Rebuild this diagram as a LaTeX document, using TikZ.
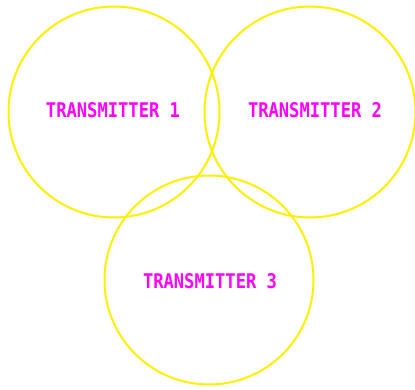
\documentclass[tikz,border=0pt]{standalone}
\usepackage{fontspec}
\setmonofont{DejaVu Sans Mono}
\usepackage{graphicx}
\definecolor{cadyellow}{RGB}{255,240,0}
\definecolor{cadmagenta}{RGB}{255,0,255}
\tikzset{
  zone/.style={circle, draw=cadyellow, line width=2pt, minimum size=#1, inner sep=0pt},
  label/.style={text=cadmagenta, inner sep=0pt, font=\ttfamily\bfseries}
}
\newcommand{\txlabel}[1]{\resizebox{134pt}{15pt}{#1}}
\begin{document}
\begin{tikzpicture}[x=1pt,y=1pt]
  \useasboundingbox (0,0) rectangle (415,389);
  \node[zone=211pt] (c1) at (114,277) {};
  \node[zone=211pt] (c2) at (310,277) {};
  \node[zone=209pt] (c3) at (209,109) {};
  \node[label] (t1) at (113,278.5) {\txlabel{TRANSMITTER 1}};
  \node[label] (t2) at (315,278.5) {\txlabel{TRANSMITTER 2}};
  \node[label] (t3) at (210,108) {\txlabel{TRANSMITTER 3}};
\end{tikzpicture}
\end{document}
